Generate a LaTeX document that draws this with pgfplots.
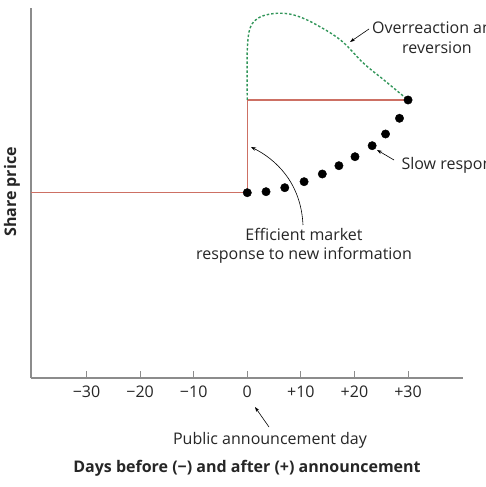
\documentclass[border=0pt]{standalone}
\usepackage{pgfplots}
\pgfplotsset{compat=1.18}
\usepackage{fontspec}
\setmainfont{Open Sans}
\usetikzlibrary{arrows.meta}
\definecolor{redline}{RGB}{205,112,100}
\definecolor{greendash}{RGB}{50,150,90}
\definecolor{axisgrey}{RGB}{140,140,140}
\begin{document}
\begin{tikzpicture}[x=1pt,y=1pt]
\begin{axis}[
  at={(31pt,109pt)}, anchor=south west,
  scale only axis, width=432pt, height=370pt,
  xmin=-40.35, xmax=40.25, ymin=0, ymax=370,
  axis x line=bottom, axis y line=left,
  axis line style={-, axisgrey, line width=1.1pt},
  xtick={-30,-20,-10,0,10,20,30},
  xticklabels={−30,−20,−10,0,+10,+20,+30},
  ytick=\empty,
  tick align=inside, major tick length=7pt,
  tick style={axisgrey, line width=0.9pt},
  xticklabel style={font=\fontsize{16}{18}\selectfont, text=black!85, yshift=-4pt},
  clip=false,
]
\addplot[redline, line width=1.5pt] coordinates {(-40.35,185.5) (0,185.5) (0,278) (30,278)};
\addplot[greendash, line width=1.4pt, dash pattern=on 2.5pt off 2pt, smooth, tension=0.55] coordinates {
(0,278) (0,328) (0.6,351) (2.4,361) (5.5,364.7) (8.7,363) (12.4,354.7) (17.4,338) (21.7,314.7) (25.5,298) (30,278)};
\addplot[only marks, mark=*, mark size=4.2pt, black] coordinates {
(0,185.3) (3.5,186.3) (7,190.3) (10.6,196.3) (14,204) (17.1,212.3) (20.1,221.3) (23.3,232.3) (25.8,244) (28.4,259.7) (30,278)};
\end{axis}
\begin{scope}[every node/.style={font=\fontsize{16}{20}\selectfont, text=black!85}]
\node[align=center] at (437,449) {Overreaction and\\reversion};
\draw[-{Stealth[length=5pt,width=3.5pt]}, line width=0.6pt] (369,458) -- (350,445);
\node[anchor=west] at (398,322) {Slow response};
\draw[-{Stealth[length=5pt,width=3.5pt]}, line width=0.6pt] (394,327) -- (377,337);
\node[align=center, font=\fontsize{16}{18.5}\selectfont] at (304,241) {Efficient market\\response to new information};
\draw[-{Stealth[length=5pt,width=3.5pt]}, line width=0.6pt] (303,262) .. controls (301,305) and (275,328) .. (251,340);
\node at (270,47) {Public announcement day};
\draw[-{Stealth[length=5pt,width=3.5pt]}, line width=0.6pt] (269,60) -- (255,80);
\node[font=\bfseries\fontsize{16}{18}\selectfont] at (247,19) {Days before (−) and after (+) announcement};
\node[rotate=90, font=\bfseries\fontsize{16}{18}\selectfont] at (12,295) {Share price};
\end{scope}
\pgfresetboundingbox
\path[use as bounding box] (0,0) rectangle (486,487);
\end{tikzpicture}
\end{document}
